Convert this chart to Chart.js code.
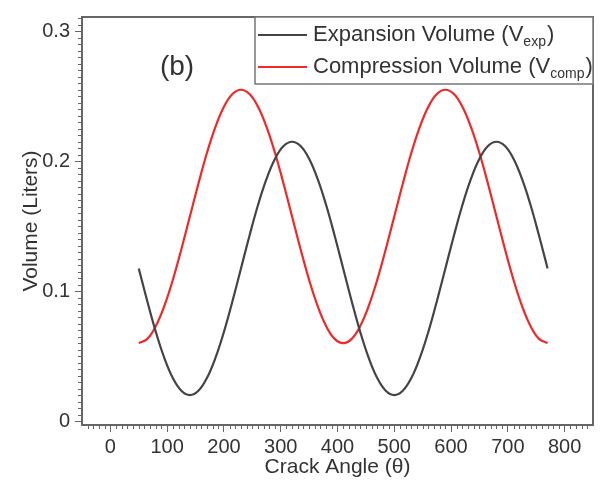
<!DOCTYPE html>
<html>
<head>
<meta charset="utf-8">
<script src="https://cdn.jsdelivr.net/npm/chart.js@4/dist/chart.umd.min.js"></script>
<style>
  body { margin: 0; background: #fff; }
  #wrap { width: 600px; height: 487px; position: relative; }
</style>
</head>
<body>
<div id="wrap"><canvas id="volchart"></canvas></div>
<script>
// crank angle (deg) sampled every 15 deg
const angles = [50, 65, 80, 95, 110, 125, 140, 155, 170, 185, 200, 215, 230, 245, 260, 275,
	290, 305, 320, 335, 350, 365, 380, 395, 410, 425, 440, 455, 470, 485, 500, 515, 530,
	545, 560, 575, 590, 605, 620, 635, 650, 665, 680, 695, 710, 725, 740, 755, 770];

const expVol = [0.1175, 0.0923, 0.0687, 0.0486, 0.0331, 0.0233, 0.0200, 0.0233, 0.0331,
	0.0486, 0.0687, 0.0923, 0.1175, 0.1427, 0.1663, 0.1864, 0.2019, 0.2117, 0.2150, 0.2117,
	0.2019, 0.1864, 0.1663, 0.1427, 0.1175, 0.0923, 0.0687, 0.0486, 0.0331, 0.0233, 0.0200,
	0.0233, 0.0331, 0.0486, 0.0687, 0.0923, 0.1175, 0.1427, 0.1663, 0.1864, 0.2019, 0.2117,
	0.2150, 0.2117, 0.2019, 0.1864, 0.1663, 0.1427, 0.1175];

const compVol = [0.0600, 0.0633, 0.0731, 0.0886, 0.1087, 0.1323, 0.1575, 0.1827, 0.2063,
	0.2264, 0.2419, 0.2517, 0.2550, 0.2517, 0.2419, 0.2264, 0.2063, 0.1827, 0.1575, 0.1323,
	0.1087, 0.0886, 0.0731, 0.0633, 0.0600, 0.0633, 0.0731, 0.0886, 0.1087, 0.1323, 0.1575,
	0.1827, 0.2063, 0.2264, 0.2419, 0.2517, 0.2550, 0.2517, 0.2419, 0.2264, 0.2063, 0.1827,
	0.1575, 0.1323, 0.1087, 0.0886, 0.0731, 0.0633, 0.0600];

const xTicks = [0, 100, 200, 300, 400, 500, 600, 700, 800];
const yTicks = [0, 0.1, 0.2, 0.3];
const legendMain = ['Expansion Volume (V', 'Compression Volume (V'];
const legendSub = ['exp', 'comp'];

const textColor = '#333';
const axisColor = '#666';
const fontFam = 'Arial, "Liberation Sans", sans-serif';

// minor ticks, top/right frame, legend box and panel letter
const extras = {
	id: 'extras',
	afterDraw(chart) {
		const ctx = chart.ctx;
		const a = chart.chartArea;
		const xs = chart.scales.x, ys = chart.scales.y;
		ctx.save();
		ctx.strokeStyle = axisColor;
		ctx.lineWidth = 1;
		ctx.beginPath();
		for (let v = -40; v <= 840; v += 10) {
			if (v % 100 === 0) continue;
			const px = Math.round(xs.getPixelForValue(v)) + 0.5;
			ctx.moveTo(px, a.bottom);
			ctx.lineTo(px, a.bottom + 4);
		}
		for (let k = 1; k <= 62; k++) {
			if (k % 20 === 0) continue;
			const py = Math.round(ys.getPixelForValue(k * 0.005)) + 0.5;
			ctx.moveTo(a.left, py);
			ctx.lineTo(a.left - 4, py);
		}
		ctx.stroke();

		ctx.lineWidth = 2;
		ctx.beginPath();
		ctx.moveTo(a.left, a.top);
		ctx.lineTo(a.right, a.top);
		ctx.lineTo(a.right, a.bottom);
		ctx.stroke();

		// legend
		const bx = 255, by = a.top, bw = a.right - 255, bh = 67;
		ctx.fillStyle = '#fff';
		ctx.fillRect(bx, by, bw, bh);
		ctx.lineWidth = 1.5;
		ctx.strokeStyle = '#777';
		ctx.strokeRect(bx, by, bw, bh);
		const rows = [by + 18, by + 50];
		chart.data.datasets.forEach((ds, i) => {
			const y = rows[i];
			ctx.strokeStyle = ds.borderColor;
			ctx.lineWidth = 2;
			ctx.beginPath();
			ctx.moveTo(bx + 3, y);
			ctx.lineTo(bx + 52, y);
			ctx.stroke();
			ctx.fillStyle = textColor;
			ctx.textBaseline = 'middle';
			ctx.textAlign = 'left';
			ctx.font = '22px ' + fontFam;
			let tx = bx + 58;
			ctx.fillText(legendMain[i], tx, y);
			tx += ctx.measureText(legendMain[i]).width;
			ctx.font = '14px ' + fontFam;
			ctx.fillText(legendSub[i], tx, y + 7);
			tx += ctx.measureText(legendSub[i]).width;
			ctx.font = '22px ' + fontFam;
			ctx.fillText(')', tx + 1, y);
		});

		ctx.fillStyle = textColor;
		ctx.font = '28px ' + fontFam;
		ctx.textAlign = 'center';
		ctx.fillText('(b)', 177, 67);
		ctx.restore();
	}
};

const volchart = new Chart(document.getElementById('volchart'), {
	type: 'line',
	data: {
		datasets: [{
			label: 'Expansion Volume (Vexp)',
			data: angles.map((a, i) => ({ x: a, y: expVol[i] })),
			borderColor: '#444444',
			borderWidth: 2.2,
			pointRadius: 0,
			tension: 0.4
		}, {
			label: 'Compression Volume (Vcomp)',
			data: angles.map((a, i) => ({ x: a, y: compVol[i] })),
			borderColor: '#f02828',
			borderWidth: 2.2,
			pointRadius: 0,
			tension: 0.4
		}]
	},
	plugins: [extras],
	options: {
		responsive: true,
		maintainAspectRatio: false,
		animation: false,
		layout: { padding: { left: 15, top: 12, right: 7, bottom: 0 } },
		plugins: {
			legend: { display: false },
			tooltip: { enabled: false }
		},
		scales: {
			x: {
				type: 'linear',
				min: -50,
				max: 850,
				afterBuildTicks: s => { s.ticks = xTicks.map(v => ({ value: v })); },
				afterFit: s => { s.height = 62; },
				grid: { drawOnChartArea: false, tickLength: 7, tickColor: axisColor },
				border: { color: axisColor, width: 2 },
				ticks: { color: textColor, font: { size: 20, family: fontFam }, padding: 3, maxRotation: 0 },
				title: { display: true, text: 'Crack Angle (θ)', color: textColor,
					font: { size: 21, family: fontFam }, padding: { bottom: 7, top: 0 } }
			},
			y: {
				min: -0.003,
				max: 0.311,
				afterBuildTicks: s => { s.ticks = yTicks.map(v => ({ value: v })); },
				afterFit: s => { s.width = 67; },
				grid: { drawOnChartArea: false, tickLength: 7, tickColor: axisColor },
				border: { color: axisColor, width: 2 },
				ticks: { color: textColor, font: { size: 20, family: fontFam }, padding: 5,
					callback: v => String(v) },
				title: { display: true, text: 'Volume (Liters)', color: textColor,
					font: { size: 21, family: fontFam }, padding: { top: 4, bottom: 0 } }
			}
		}
	}
});
</script>
</body>
</html>
